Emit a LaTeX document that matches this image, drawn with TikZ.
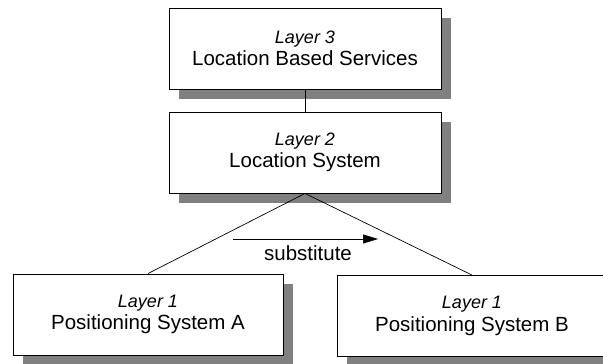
\documentclass[tikz,border=0pt]{standalone}
\usepackage{fontspec}
\setmainfont{Liberation Sans}
\usetikzlibrary{arrows.meta,shadows}
\begin{document}
\begin{tikzpicture}[x=1pt,y=1pt,
  layerbox/.style={draw=black, line width=0.9pt, fill=white,
    minimum width=272pt, minimum height=81pt, inner sep=0pt,
    align=center, font=\fontsize{20.5}{22.5}\selectfont,
    general shadow={fill=black!50, shadow xshift=10pt, shadow yshift=-10pt}},
  link/.style={draw=black, line width=0.7pt},
  lname/.style={font=\fontsize{18}{22.5}\selectfont\itshape}]
\useasboundingbox (0,0) rectangle (603,364);
\clip (0,0) rectangle (603,364);

\node[layerbox] (l3) at (305,315.5)
  {{\fontsize{18}{22.5}\selectfont\itshape Layer 3}\\Location Based Services};
\node[layerbox] (l2) at (305,211.5)
  {{\fontsize{18}{22.5}\selectfont\itshape Layer 2}\\Location System};
\node[layerbox, minimum width=270pt] (pa) at (148,49.5)
  {{\fontsize{18}{22.5}\selectfont\itshape Layer 1}\\Positioning System A};
\node[layerbox, minimum width=270pt] (pb) at (472,48)
  {{\fontsize{18}{22.5}\selectfont\itshape Layer 1}\\Positioning System B};

\draw[link] (l3.south) -- (l2.north);
\draw[link] (l2.south) -- (pa.north);
\draw[link] (l2.south) -- (pb.north);

\coordinate (s0) at (233,125);
\coordinate (s1) at (378,125);
\draw[link, -{Triangle[length=15pt,width=9pt]}] (s0) -- (s1);
\node[font=\fontsize{20.5}{22.5}\selectfont] (sub) at (308,111) {substitute};
\end{tikzpicture}
\end{document}
